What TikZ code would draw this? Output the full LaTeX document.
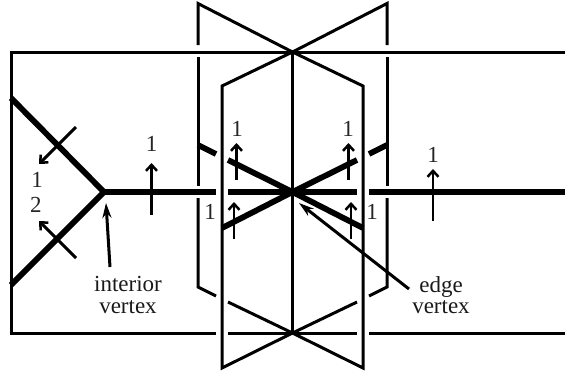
\documentclass[tikz,border=0pt]{standalone}
\usepackage{fontspec}
\setmainfont{Liberation Serif}
\usetikzlibrary{arrows.meta}
\tikzset{
  thinline/.style={line width=3pt,line join=miter},
  thickline/.style={line width=5.8pt},
  flowarrow/.style={line width=2.9pt,-{Straight Barb[length=6pt,width=11pt,line width=2.5pt]}},
  callout/.style={line width=3pt,-{Stealth[length=15pt,width=9pt]}},
  lab/.style={font=\fontsize{23}{23}\selectfont,inner sep=0pt,text=black!85},
  caption/.style={font=\fontsize{23}{21.5}\selectfont,inner sep=0pt,align=center,text=black!90}
}
\begin{document}
\begin{tikzpicture}[x=1pt,y=-1pt]
\useasboundingbox (0,0) rectangle (565,372);
% key points
\coordinate (top) at (292.5,52);
\coordinate (bot) at (292.5,333);
\coordinate (mid) at (292.5,192);
\coordinate (junc) at (104,192);
\coordinate (ul) at (11,98);
\coordinate (ll) at (11,285);
% sheet outline
\draw[thinline] (565,52) -- (11,52) -- (11,333) -- (216,333);
\draw[thinline] (228,333) -- (357,333);
\draw[thinline] (369,333) -- (565,333);
% central spine
\draw[thinline] (top) -- (bot);
% inner sheets
\draw[thinline] (top) -- (222,86) -- (222,368) -- (bot);
\draw[thinline] (top) -- (363,86) -- (363,368) -- (bot);
% outer sheets
\draw[thinline] (top) -- (198,3.5) -- (198,45);
\draw[thinline] (198,57) -- (198,186);
\draw[thinline] (198,198) -- (198,287) -- (216,296);
\draw[thinline] (228,302) -- (bot);
\draw[thinline] (top) -- (387,3.5) -- (387,45);
\draw[thinline] (387,57) -- (387,186);
\draw[thinline] (387,198) -- (387,287) -- (369,296);
\draw[thinline] (357,302) -- (bot);
% thick web
\draw[thickline,line join=miter] (ul) -- (junc) -- (ll);
\draw[thickline] (junc) -- (216,192);
\draw[thickline] (228,192) -- (357,192);
\draw[thickline] (369,192) -- (565,192);
\draw[thickline] (198,145) -- (216,154);
\draw[thickline] (228,160) -- (mid);
\draw[thickline] (387,145) -- (369,154);
\draw[thickline] (357,160) -- (mid);
\draw[thickline] (222,228) -- (mid);
\draw[thickline] (363,228) -- (mid);
% flow arrows
\coordinate (a1s) at (76,127); \coordinate (a1e) at (39,164);
\coordinate (a2s) at (76,258); \coordinate (a2e) at (39,221);
\coordinate (a3s) at (151.5,215); \coordinate (a3e) at (151.5,163);
\coordinate (a4s) at (236.5,180); \coordinate (a4e) at (236.5,143);
\coordinate (a5s) at (348.5,180); \coordinate (a5e) at (348.5,143);
\coordinate (a6s) at (234,239); \coordinate (a6e) at (234,202);
\coordinate (a7s) at (351,239); \coordinate (a7e) at (351,202);
\coordinate (a8s) at (433,221); \coordinate (a8e) at (433,169);
\foreach \k in {1,...,8} \draw[flowarrow] (a\k s) -- (a\k e);
% labels
\node[lab] (l1) at (37,180) {1};
\node[lab] (l2) at (36,205) {2};
\node[lab] (l3) at (151.5,144) {1};
\node[lab] (l4) at (237,129) {1};
\node[lab] (l5) at (348,129) {1};
\node[lab] (l6) at (210,212) {1};
\node[lab] (l7) at (372,212) {1};
\node[lab] (l8) at (433,155) {1};
% captions
\node[caption] (iv) at (128,295) {interior\\vertex};
\node[caption] (ev) at (441,295) {edge\\vertex};
\coordinate (ivt) at (106,203);
\coordinate (ivs) at (110,267);
\coordinate (evt) at (299,203);
\coordinate (evs) at (409,289);
\draw[callout] (ivs) -- (ivt);
\draw[callout] (evs) -- (evt);
\end{tikzpicture}
\end{document}
